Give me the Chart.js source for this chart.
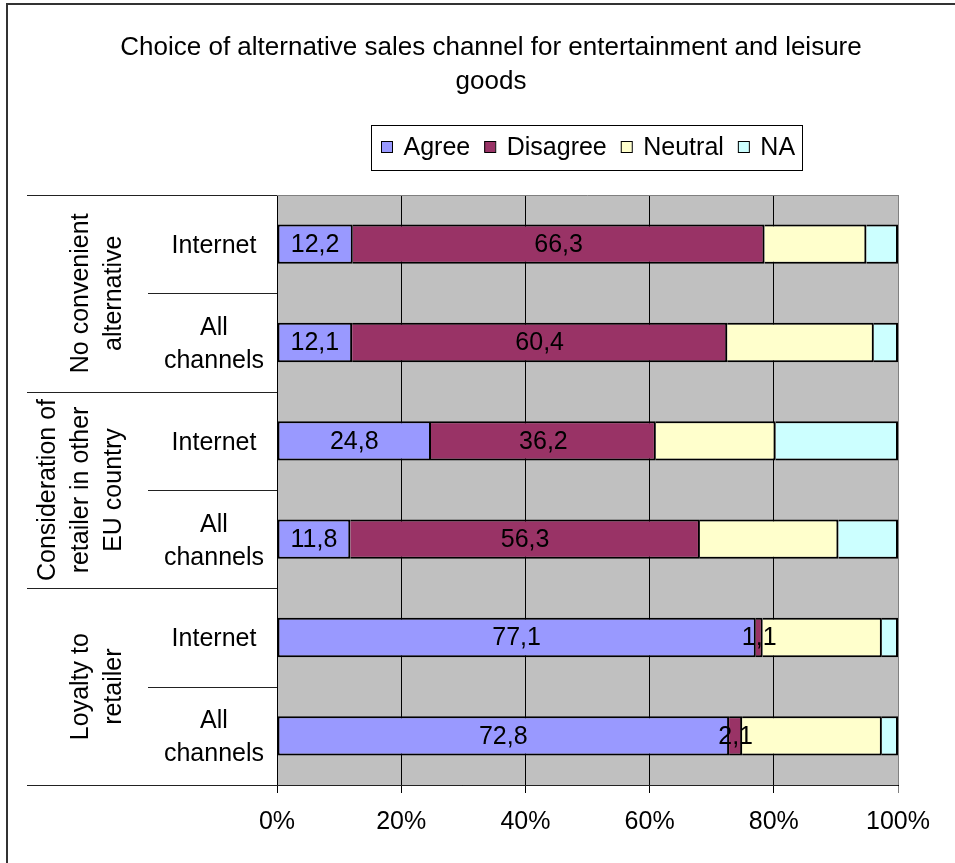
<!DOCTYPE html>
<html>
<head>
<meta charset="utf-8">
<script src="https://cdn.jsdelivr.net/npm/chart.js@4/dist/chart.umd.min.js"></script>
<style>
  html, body { margin: 0; padding: 0; background: #ffffff; }
  #wrap { width: 955px; height: 863px; }
</style>
</head>
<body>
<div id="wrap"><canvas id="c" width="955" height="863"></canvas></div>
<script>
// ---- data ----
const chartTitle = ['Choice of alternative sales channel for entertainment and leisure', 'goods'];
const seriesNames = ['Agree', 'Disagree', 'Neutral', 'NA'];
const groupLabels = [
  ['No convenient', 'alternative'],
  ['Consideration of', 'retailer in other', 'EU country'],
  ['Loyalty to', 'retailer']
];
const channelLabels = [
  ['Internet'], ['All', 'channels'],
  ['Internet'], ['All', 'channels'],
  ['Internet'], ['All', 'channels']
];
const agree    = [12.2, 12.1, 24.8, 11.8, 77.1, 72.8];
const disagree = [66.3, 60.4, 36.2, 56.3,  1.1,  2.1];
const neutral  = [16.4, 23.6, 19.3, 22.3, 19.2, 22.5];
const na       = [ 5.1,  3.9, 19.7,  9.6,  2.6,  2.6];
const xTicks = [0, 20, 40, 60, 80, 100];
const labelledSeries = [0, 1]; // value labels on Agree and Disagree

// ---- styling ----
const seriesColors = ['#9999FF', '#993366', '#FFFFCC', '#CCFFFF'];
const FONT = "'Liberation Sans', Arial, sans-serif";
const fnt = (s) => s + 'px ' + FONT;
const LINE = 33;

Chart.defaults.font.family = FONT;
Chart.defaults.color = '#000';

const seriesValues = [agree, disagree, neutral, na];
const fmt = (v) => v.toFixed(1).replace('.', ',');

const decor = {
  id: 'decor',
  beforeDraw(chart) {
    const { ctx, chartArea: a } = chart;
    ctx.save();
    ctx.fillStyle = '#ffffff';
    ctx.fillRect(0, 0, chart.width, chart.height);
    ctx.fillStyle = '#C0C0C0';
    ctx.fillRect(a.left, a.top, a.right - a.left, a.bottom - a.top);
    ctx.restore();
  },
  afterDatasetsDraw(chart) {
    const { ctx } = chart;
    ctx.save();
    ctx.font = fnt(25);
    ctx.fillStyle = '#000';
    ctx.textAlign = 'center';
    ctx.textBaseline = 'middle';
    labelledSeries.forEach((k) => {
      const meta = chart.getDatasetMeta(k);
      meta.data.forEach((el, i) => {
        const cx = (el.x + el.base) / 2;
        ctx.fillText(fmt(seriesValues[k][i]), cx, el.y + 1);
      });
    });
    ctx.restore();
  },
  afterDraw(chart) {
    const { ctx, chartArea: a } = chart;
    const y = chart.scales.y;
    const n = channelLabels.length;
    ctx.save();

    // outer frame
    ctx.strokeStyle = '#333';
    ctx.lineWidth = 2;
    ctx.strokeRect(7, 4, 1000, 1000);

    // plot top border
    ctx.strokeStyle = '#808080';
    ctx.lineWidth = 1;
    ctx.beginPath();
    ctx.moveTo(a.left, a.top + 0.5);
    ctx.lineTo(a.right, a.top + 0.5);
    ctx.stroke();

    // category separators
    ctx.strokeStyle = '#222';
    for (let k = 0; k <= n; k++) {
      const py = Math.round(y.getPixelForValue(k - 0.5)) + 0.5;
      const x0 = (k % 2 === 0) ? 27 : 148;
      const x1 = (k === n) ? a.right : a.left;
      ctx.beginPath();
      ctx.moveTo(x0, py);
      ctx.lineTo(x1, py);
      ctx.stroke();
    }

    // channel labels
    ctx.fillStyle = '#000';
    ctx.font = fnt(25);
    ctx.textAlign = 'center';
    ctx.textBaseline = 'middle';
    channelLabels.forEach((lines, i) => {
      const cy = y.getPixelForValue(i);
      lines.forEach((t, j) => {
        ctx.fillText(t, 214, cy + (j - (lines.length - 1) / 2) * LINE + 2);
      });
    });

    // group labels (rotated)
    groupLabels.forEach((lines, g) => {
      const cy = y.getPixelForValue(2 * g + 0.5);
      lines.forEach((t, j) => {
        const lx = 114 - (lines.length - 1 - j) * LINE;
        ctx.save();
        ctx.translate(lx, cy);
        ctx.rotate(-Math.PI / 2);
        ctx.fillText(t, 0, 0);
        ctx.restore();
      });
    });

    // title
    ctx.font = fnt(26);
    ctx.textBaseline = 'alphabetic';
    ctx.textAlign = 'center';
    chartTitle.forEach((t, j) => ctx.fillText(t, 491, 54.5 + j * 34));

    // legend
    ctx.strokeStyle = '#000';
    ctx.lineWidth = 1;
    ctx.strokeRect(371.5, 125.5, 431, 45);
    ctx.font = fnt(25);
    ctx.textAlign = 'left';
    let lx = 381;
    seriesNames.forEach((name, k) => {
      ctx.fillStyle = seriesColors[k];
      ctx.fillRect(lx, 141, 11, 11);
      ctx.strokeStyle = '#000';
      ctx.strokeRect(lx + 0.5, 141.5, 11, 11);
      ctx.fillStyle = '#000';
      ctx.fillText(name, lx + 22.5, 155);
      lx += 22.5 + ctx.measureText(name).width + 14;
    });

    ctx.restore();
  }
};

new Chart(document.getElementById('c'), {
  type: 'bar',
  data: {
    labels: channelLabels.map((l) => l.join(' ')),
    datasets: seriesNames.map((name, k) => ({
      label: name,
      data: seriesValues[k],
      backgroundColor: seriesColors[k],
      borderColor: '#000',
      borderWidth: 2,
      borderSkipped: k === 0 ? false : 'start',
      categoryPercentage: 1,
      barPercentage: 0.4
    }))
  },
  options: {
    indexAxis: 'y',
    responsive: false,
    animation: false,
    events: [],
    layout: { padding: { top: 195, left: 28, right: 57, bottom: 0 } },
    plugins: {
      legend: { display: false },
      title: { display: false },
      tooltip: { enabled: false }
    },
    scales: {
      x: {
        stacked: true,
        min: 0,
        max: 100,
        afterBuildTicks: (s) => { s.ticks = xTicks.map((v) => ({ value: v })); },
        ticks: { font: { size: 25 }, padding: 14, maxRotation: 0, autoSkip: false, callback: (v) => v + '%' },
        grid: {
          color: (c) => (c.index === xTicks.length - 1 ? '#808080' : '#000'),
          lineWidth: 1,
          tickLength: 8,
          drawTicks: true
        },
        border: { color: '#000', width: 1 },
        afterFit: (s) => { s.height = 78; }
      },
      y: {
        stacked: true,
        ticks: { display: false },
        grid: { display: false, drawTicks: false },
        border: { color: '#000', width: 1 },
        afterFit: (s) => { s.width = 249; }
      }
    }
  },
  plugins: [decor]
});
</script>
</body>
</html>
